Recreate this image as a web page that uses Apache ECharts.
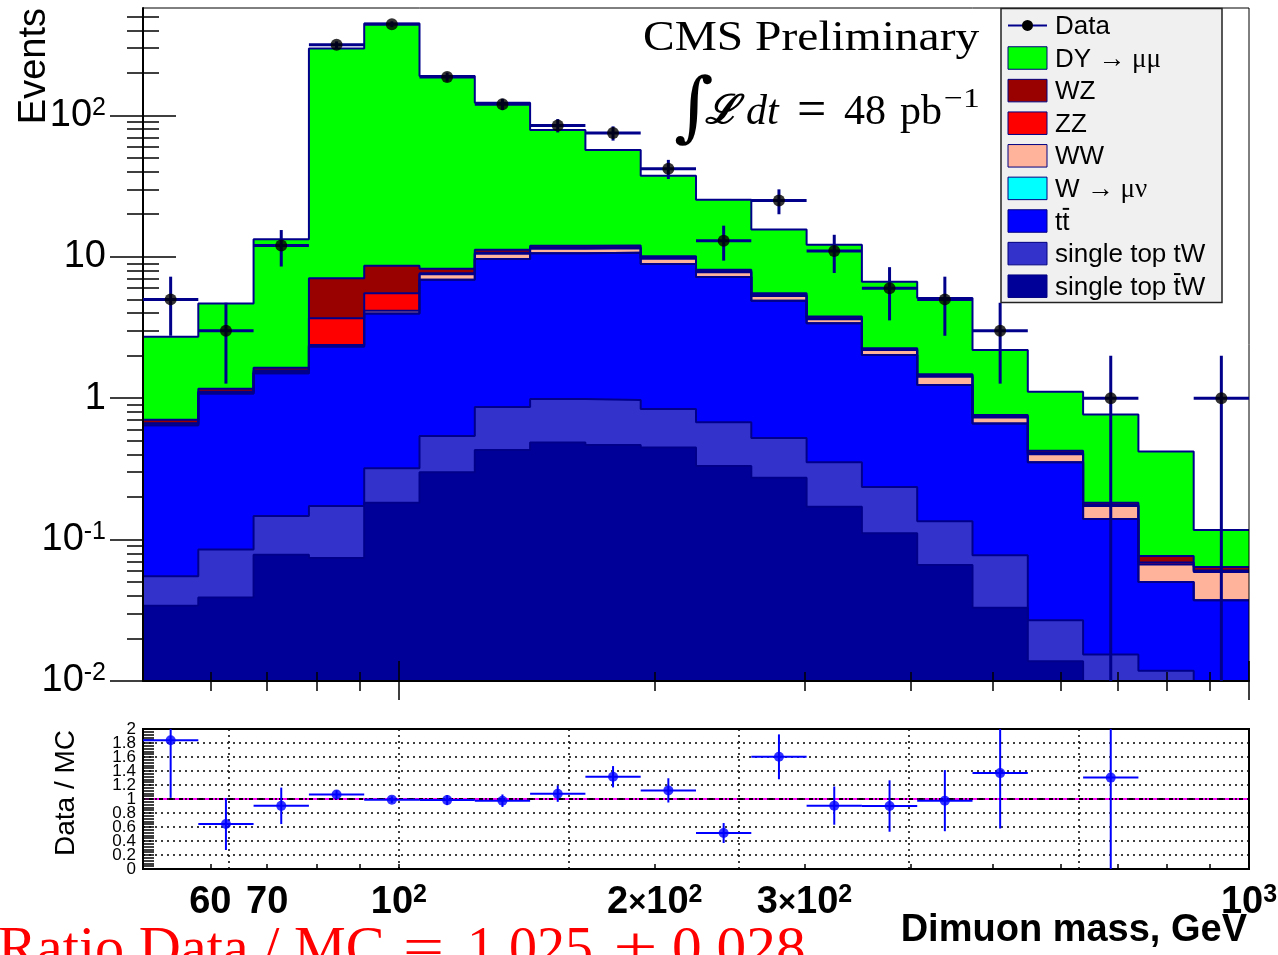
<!DOCTYPE html>
<html>
<head>
<meta charset="utf-8">
<title>Dimuon mass</title>
<script src="https://cdn.jsdelivr.net/npm/echarts@6.0.0/dist/echarts.min.js"></script>
<style>
  html, body { margin: 0; padding: 0; background: #ffffff; }
  #chart { width: 1278px; height: 955px; }
</style>
</head>
<body>
<div id="chart"></div>
<script>
// Bin edges of the dimuon mass histogram (GeV), 20 log-spaced bins
const binEdges = [50, 58.08, 67.46, 78.37, 91.03, 105.74, 122.82, 142.67, 165.72, 192.50,
  223.61, 259.74, 301.71, 350.46, 407.10, 472.87, 549.28, 638.04, 741.13, 860.88, 1000];

// Observed events per bin
const dataCounts = [5, 3, 12, 316, 442, 187, 120, 85, 75, 42, 13, 25, 11, 6, 5, 3, 0, 1, 0, 1];

// Expected events per bin for each simulated process
const singleTopTbarW = [0.034, 0.039, 0.078, 0.074, 0.182, 0.299, 0.43, 0.487, 0.466, 0.449, 0.331, 0.274, 0.171, 0.111, 0.066, 0.033, 0.0138, 0.005, 0.004, 0.002];
const singleTopTW = [0.021, 0.046, 0.069, 0.099, 0.137, 0.241, 0.437, 0.50, 0.504, 0.391, 0.344, 0.249, 0.182, 0.125, 0.069, 0.0446, 0.0131, 0.0104, 0.0078, 0.004];
const ttbar = [0.590, 0.995, 1.353, 2.147, 3.661, 6.33, 8.80, 9.61, 9.73, 8.07, 6.535, 4.357, 3.037, 1.784, 1.105, 0.586, 0.325, 0.1246, 0.0384, 0.0313];
const wMuNu = [0, 0, 0, 0, 0, 0, 0, 0, 0, 0, 0, 0, 0, 0, 0, 0, 0, 0, 0, 0];
const ww = [0.015, 0.020, 0.030, 0.060, 0.170, 0.67, 0.83, 0.80, 0.80, 0.76, 0.58, 0.41, 0.23, 0.17, 0.18, 0.068, 0.049, 0.033, 0.0165, 0.0218];
const zz = [0.005, 0.010, 0.040, 1.30, 1.38, 0.11, 0.20, 0.20, 0.15, 0.13, 0.11, 0.09, 0.06, 0.03, 0.025, 0.013, 0.009, 0.003, 0.0023, 0.0014];
const wz = [0.040, 0.055, 0.070, 3.38, 3.10, 0.57, 0.50, 0.40, 0.35, 0.30, 0.20, 0.15, 0.10, 0.04, 0.031, 0.015, 0.015, 0.006, 0.0077, 0.0036];
const dyMuMu = [2.015, 3.505, 11.66, 289.9, 437.4, 181.8, 111.8, 67.0, 44.9, 27.3, 17.2, 10.07, 8.37, 4.41, 3.644, 1.43, 0.685, 0.584, 0.344, 0.0529];

// Axis ticks and labels
const massTicksMinor = [60, 70, 80, 90, 200, 300, 400, 500, 600, 700, 800, 900];
const massTicksMajor = [100, 1000];
const massLabelValues = [60, 70, 100, 200, 300, 1000];
const ratioGridMasses = [63.1, 100, 158.5, 251.2, 398.1, 631.0];
const eventsTicksMajor = [0.01, 0.1, 1, 10, 100];
const eventsTicksMinor = [0.02, 0.03, 0.04, 0.05, 0.06, 0.07, 0.08, 0.09,
  0.2, 0.3, 0.4, 0.5, 0.6, 0.7, 0.8, 0.9, 2, 3, 4, 5, 6, 7, 8, 9,
  20, 30, 40, 50, 60, 70, 80, 90, 200, 300, 400, 500];
const ratioLabelsEven = [0, 0.4, 0.8, 1.2, 1.6, 2];
const ratioLabelsOdd = [0.2, 0.6, 1, 1.4, 1.8];

const ratioValueText = '1.025';
const ratioErrorText = '0.028';

// ---------------------------------------------------------------------
const SANS = '"Liberation Sans", Arial, Helvetica, sans-serif';
const SERIF = '"Liberation Serif", "Times New Roman", serif';
const OUTLINE = '#00008b';
const DATA_ERR = '#00008b';
const RATIO_BLUE = '#0000ff';

// stacking order: bottom first
const layers = [
  { name: 'single top t\u0304W', values: singleTopTbarW, color: '#000099' },
  { name: 'single top tW', values: singleTopTW, color: '#3333cc' },
  { name: 't t\u0304', values: ttbar, color: '#0000ff' },
  { name: 'W \u2192 \u03bc\u03bd', values: wMuNu, color: '#00ffff' },
  { name: 'WW', values: ww, color: '#ffb39b' },
  { name: 'ZZ', values: zz, color: '#ff0000' },
  { name: 'WZ', values: wz, color: '#990000' },
  { name: 'DY \u2192 \u03bc\u03bc', values: dyMuMu, color: '#00ff00' }
];

const nBins = dataCounts.length;
const cumulative = [];
let running = new Array(nBins).fill(0);
layers.forEach(l => {
  running = running.map((s, i) => s + l.values[i]);
  cumulative.push(running.slice());
});
const mcTotal = cumulative[cumulative.length - 1];

const Y_MIN = 0.01, Y_MAX = 575;
const RATIO_MIN = 0, RATIO_MAX = 2;

const binCenter = i => Math.sqrt(binEdges[i] * binEdges[i + 1]);

// data points with Poisson errors
const dataPoints = [], dataBars = [];
dataCounts.forEach((n, i) => {
  if (n <= 0) return;
  const e = Math.sqrt(n);
  dataPoints.push([binCenter(i), n]);
  dataBars.push([binEdges[i], binEdges[i + 1], n, Math.max(n - e, Y_MIN), Math.min(n + e, Y_MAX)]);
});

// Data / MC ratio
const ratioPoints = [], ratioBars = [];
dataCounts.forEach((n, i) => {
  if (n <= 0) return;
  const r = n / mcTotal[i];
  if (r > RATIO_MAX) return;
  const e = Math.sqrt(n) / mcTotal[i];
  ratioPoints.push([binCenter(i), r]);
  ratioBars.push([binEdges[i], binEdges[i + 1], r, Math.max(r - e, RATIO_MIN), Math.min(r + e, RATIO_MAX)]);
});

// ---------------------------------------------------------------------
function massAxis(grid, extra) {
  return Object.assign({
    type: 'log', logBase: 10, min: 50, max: 1000, gridIndex: grid, position: 'bottom',
    axisLine: { show: false }, axisTick: { show: false }, axisLabel: { show: false },
    splitLine: { show: false }, minorTick: { show: false }, z: 4
  }, extra);
}
function eventsAxis(extra) {
  return Object.assign({
    type: 'log', logBase: 10, min: Y_MIN, max: Y_MAX, gridIndex: 0, position: 'left',
    axisLine: { show: false }, axisTick: { show: false }, axisLabel: { show: false },
    splitLine: { show: false }, minorTick: { show: false }, z: 4
  }, extra);
}
function ratioAxis(extra) {
  return Object.assign({
    type: 'value', gridIndex: 1, min: RATIO_MIN, max: RATIO_MAX, interval: 0.2, position: 'left', z: 4,
    axisLine: { show: false }, axisTick: { show: false }, splitLine: { show: false }, minorTick: { show: false }
  }, extra);
}

function powLabel(v) {
  const p = Math.round(Math.log10(v));
  if (p === 0) return '{b|1}';
  if (p === 1) return '{b|10}';
  return '{b|10}{s|' + p + '}';
}
function massLabel(v) {
  if (Math.abs(v - 100) < 1e-6) return '{b|10}{s|2}';
  if (Math.abs(v - 1000) < 1e-6) return '{b|10}{s|3}';
  if (v >= 200) return '{b|' + Math.round(v / 100) + '}{x|\u00d7}{b|10}{s|2}';
  return '{b|' + v + '}';
}
function ratioLabel(v) {
  return String(Math.round(v * 10) / 10);
}
const ratioLabelStyle = { fontFamily: SANS, fontSize: 17, color: '#000', margin: 7, formatter: ratioLabel,
  showMinLabel: true, showMaxLabel: true, hideOverlap: false };

const xAxes = [
  // main panel: bottom axis line with crossing ticks
  massAxis(0, { axisLine: { show: true, onZero: false, lineStyle: { color: '#000', width: 2 } },
    axisTick: { show: true, customValues: massTicksMinor, length: 10, lineStyle: { color: '#000', width: 1.5 } } }),
  massAxis(0, { axisTick: { show: true, inside: true, customValues: massTicksMinor, length: 9, lineStyle: { color: '#000', width: 1.5 } } }),
  massAxis(0, { axisTick: { show: true, customValues: massTicksMajor, length: 19, lineStyle: { color: '#000', width: 1.5 } } }),
  massAxis(0, { axisTick: { show: true, inside: true, customValues: massTicksMajor, length: 20, lineStyle: { color: '#000', width: 1.5 } } }),
  // ratio panel: axis line, ticks and labels
  massAxis(1, { axisLine: { show: true, onZero: false, lineStyle: { color: '#000', width: 2 } },
    axisTick: { show: true, inside: true, customValues: massTicksMinor.concat(massTicksMajor), length: 5, lineStyle: { color: '#000', width: 1.5 } },
    axisLabel: { show: true, customValues: massLabelValues, margin: 14, formatter: massLabel,
      showMinLabel: true, showMaxLabel: true,
      rich: {
        b: { fontFamily: SANS, fontWeight: 'bold', fontSize: 38, lineHeight: 40, color: '#000' },
        s: { fontFamily: SANS, fontWeight: 'bold', fontSize: 25, lineHeight: 18, verticalAlign: 'top', color: '#000' },
        x: { fontFamily: SANS, fontWeight: 'bold', fontSize: 31, lineHeight: 40, color: '#000' }
      } } }),
  // ratio panel: vertical dotted grid
  massAxis(1, { axisTick: { show: false, customValues: ratioGridMasses },
    splitLine: { show: true, lineStyle: { color: '#000', width: 1.5, type: [2, 4] } }, z: 1 })
];

const yAxes = [
  eventsAxis({ axisLine: { show: true, onZero: false, lineStyle: { color: '#000', width: 2 } },
    axisTick: { show: true, customValues: eventsTicksMajor, length: 33, lineStyle: { color: '#000', width: 1.5 } },
    axisLabel: { show: true, customValues: eventsTicksMajor, margin: 37, formatter: powLabel,
      showMinLabel: true, showMaxLabel: true,
      rich: {
        b: { fontFamily: SANS, fontSize: 38, lineHeight: 40, color: '#000' },
        s: { fontFamily: SANS, fontSize: 25, lineHeight: 20, verticalAlign: 'top', color: '#000' }
      } } }),
  eventsAxis({ axisTick: { show: true, customValues: eventsTicksMinor, length: 16, lineStyle: { color: '#000', width: 1.5 } } }),
  eventsAxis({ z: 0, axisTick: { show: true, inside: true, customValues: eventsTicksMajor, length: 33, lineStyle: { color: '#000', width: 1.5 } } }),
  eventsAxis({ z: 0, axisTick: { show: true, inside: true, customValues: eventsTicksMinor, length: 16, lineStyle: { color: '#000', width: 1.5 } } }),
  // ratio panel: axis line, ticks, dotted grid and every other label
  ratioAxis({
    axisLine: { show: true, onZero: false, lineStyle: { color: '#000', width: 2 } },
    axisTick: { show: true, inside: true, length: 11, lineStyle: { color: '#000', width: 1.5 } },
    minorTick: { show: true, splitNumber: 5, length: 11, lineStyle: { color: '#000', width: 1.5 } },
    splitLine: { show: true, lineStyle: { color: '#000', width: 1.5, type: [2, 4] } },
    axisLabel: Object.assign({ customValues: ratioLabelsEven }, ratioLabelStyle)
  }),
  // ratio panel: remaining labels
  ratioAxis({ axisLabel: Object.assign({ customValues: ratioLabelsOdd }, ratioLabelStyle) })
];

// ---------------------------------------------------------------------
const series = [];

// stacked histograms, drawn from the total down so lower layers paint on top
for (let k = layers.length - 1; k >= 0; k--) {
  series.push({
    type: 'line', name: layers[k].name, xAxisIndex: 0, yAxisIndex: 0,
    step: 'end', symbol: 'none', silent: true, z: 2,
    data: binEdges.map((e, i) => [e, cumulative[k][Math.min(i, nBins - 1)]]),
    lineStyle: { color: OUTLINE, width: 2 },
    areaStyle: { color: layers[k].color, opacity: 1, origin: 'start' }
  });
}

function errorBars(items, xi, yi, color, width) {
  return {
    type: 'custom', xAxisIndex: xi, yAxisIndex: yi, clip: true, silent: true, z: 5,
    data: items,
    encode: { x: [0, 1], y: [2, 3, 4] },
    renderItem: function (params, api) {
      const lo = api.value(0), hi = api.value(1), v = api.value(2);
      const eLo = api.value(3), eHi = api.value(4);
      const xc = Math.sqrt(lo * hi);
      const pL = api.coord([lo, v]), pR = api.coord([hi, v]);
      const pB = api.coord([xc, eLo]), pT = api.coord([xc, eHi]);
      const st = { stroke: color, lineWidth: width };
      return {
        type: 'group', children: [
          { type: 'line', shape: { x1: pL[0], y1: pL[1], x2: pR[0], y2: pR[1] }, style: st },
          { type: 'line', shape: { x1: pB[0], y1: pB[1], x2: pT[0], y2: pT[1] }, style: st }
        ]
      };
    }
  };
}

series.push(errorBars(dataBars, 0, 0, DATA_ERR, 3));
series.push({
  type: 'scatter', name: 'Data', xAxisIndex: 0, yAxisIndex: 0, z: 6, silent: true,
  symbol: 'circle', symbolSize: 12, itemStyle: { color: '#000' }, data: dataPoints
});

// ratio panel: reference line at 1, error bars and points
series.push({
  type: 'line', xAxisIndex: 4, yAxisIndex: 4, symbol: 'none', silent: true, z: 3,
  data: [[50, 1], [1000, 1]], lineStyle: { color: '#000', width: 2 }
});
series.push({
  type: 'line', xAxisIndex: 4, yAxisIndex: 4, symbol: 'none', silent: true, z: 3,
  data: [[50, 1], [1000, 1]], lineStyle: { color: '#ff00ff', width: 2, type: [6, 4] }
});
series.push(errorBars(ratioBars, 4, 4, RATIO_BLUE, 2));
series.push({
  type: 'scatter', xAxisIndex: 4, yAxisIndex: 4, z: 6, silent: true,
  symbol: 'circle', symbolSize: 10, itemStyle: { color: RATIO_BLUE }, data: ratioPoints
});

// ---------------------------------------------------------------------
// legend box
const LEG = { x: 1001, y: 8.5, w: 221, h: 294, row0: 25.4, dy: 32.6, swX: 1008, swW: 39, swH: 22.5, textX: 1055 };
const measure = (() => {
  const c = document.createElement('canvas').getContext('2d');
  return (txt, font) => { c.font = font; return c.measureText(txt).width; };
})();
const legendFont = '26px ' + SANS;

const legendEls = [{
  type: 'rect', shape: { x: LEG.x, y: LEG.y, width: LEG.w, height: LEG.h },
  style: { fill: '#f0f0f0', stroke: '#222', lineWidth: 1.5 }, z: 100
}];
// Data row
legendEls.push({ type: 'line', shape: { x1: LEG.swX, y1: LEG.row0, x2: LEG.swX + LEG.swW, y2: LEG.row0 },
  style: { stroke: DATA_ERR, lineWidth: 2 }, z: 101 });
legendEls.push({ type: 'circle', shape: { cx: LEG.swX + LEG.swW / 2, cy: LEG.row0, r: 5.5 },
  style: { fill: '#000' }, z: 102 });
legendEls.push({ type: 'text', x: LEG.textX, y: LEG.row0 + 1.5, z: 102,
  style: { text: 'Data', font: legendFont, fill: '#000', verticalAlign: 'middle', align: 'left' } });

const legendLabels = [
  { idx: 7, text: '{a|DY} {g|\u2192 \u03bc\u03bc}' },
  { idx: 6, text: 'WZ' },
  { idx: 5, text: 'ZZ' },
  { idx: 4, text: 'WW' },
  { idx: 3, text: '{a|W} {g|\u2192 \u03bc\u03bd}' },
  { idx: 2, text: 'tt', barAfter: 't' },
  { idx: 1, text: 'single top tW' },
  { idx: 0, text: 'single top tW', barAfter: 'single top ' }
];
legendLabels.forEach((lab, r) => {
  const cy = LEG.row0 + LEG.dy * (r + 1);
  legendEls.push({ type: 'rect', z: 101,
    shape: { x: LEG.swX, y: cy - LEG.swH / 2, width: LEG.swW, height: LEG.swH },
    style: { fill: layers[lab.idx].color, stroke: '#000080', lineWidth: 1 } });
  legendEls.push({ type: 'text', x: LEG.textX, y: cy + 1.5, z: 102,
    style: { text: lab.text, font: legendFont, fill: '#000', verticalAlign: 'middle', align: 'left',
      rich: {
        a: { fontFamily: SANS, fontSize: 26, fill: '#000' },
        g: { fontFamily: SERIF, fontSize: 27, fill: '#000' }
      } } });
  if (lab.barAfter !== undefined) {
    const x0 = LEG.textX + measure(lab.barAfter, legendFont);
    const tw = measure('t', legendFont);
    const yb = cy + 1.5 + 0.2757 * 26 - 0.80 * 26;
    legendEls.push({ type: 'line', z: 102, shape: { x1: x0 + 0.5, y1: yb, x2: x0 + tw - 0.3, y2: yb },
      style: { stroke: '#000', lineWidth: 2 } });
  }
});

// annotations
const RED_Y = 951;
const textEls = [
  { type: 'text', x: 643, y: 38.8, z: 50, scaleX: 1.13, originX: 0, originY: 0,
    style: { text: 'CMS Preliminary', font: '42px ' + SERIF, fill: '#000', verticalAlign: 'middle', align: 'left' } },
  { type: 'text', x: 674, y: 112, z: 50,
    style: { text: '\u222b', font: '76px "DejaVu Serif", serif', fill: '#000', verticalAlign: 'middle', align: 'left' } },
  { type: 'text', x: 705, y: 112.8, z: 50,
    style: { text: '\u2112', font: 'italic bold 40px "DejaVu Serif", serif', fill: '#000', verticalAlign: 'middle', align: 'left' } },
  { type: 'text', x: 746, y: 112.8, z: 50,
    style: { text: 'dt', font: 'italic 42px ' + SERIF, fill: '#000', verticalAlign: 'middle', align: 'left' } },
  { type: 'text', x: 797, y: 112.8, z: 50,
    style: { text: '=', font: '52px ' + SERIF, fill: '#000', verticalAlign: 'middle', align: 'left' } },
  { type: 'text', x: 844, y: 112.8, z: 50,
    style: { text: '48', font: '42px ' + SERIF, fill: '#000', verticalAlign: 'middle', align: 'left' } },
  { type: 'text', x: 900, y: 112.8, z: 50,
    style: { text: 'pb', font: '42px ' + SERIF, fill: '#000', verticalAlign: 'middle', align: 'left' } },
  { type: 'text', x: 944, y: 99.3, z: 50, scaleX: 1.2, originX: 0, originY: 0,
    style: { text: '\u22121', font: '28px ' + SERIF, fill: '#000', verticalAlign: 'middle', align: 'left' } },
  // axis titles
  { type: 'text', x: 35, y: 8, rotation: Math.PI / 2, z: 50,
    style: { text: 'Events', font: '38px ' + SANS, fill: '#000', verticalAlign: 'middle', align: 'right' } },
  { type: 'text', x: 66, y: 730, rotation: Math.PI / 2, z: 50,
    style: { text: 'Data / MC', font: '28px ' + SANS, fill: '#000', verticalAlign: 'middle', align: 'right' } },
  { type: 'text', x: 1247, y: 930.5, z: 50,
    style: { text: 'Dimuon mass, GeV', font: 'bold 38px ' + SANS, fill: '#000', verticalAlign: 'middle', align: 'right' } },
  // overall normalisation
  { type: 'text', x: -2, y: RED_Y, z: 50, scaleX: 1.04, originX: 0, originY: 0,
    style: { text: 'Ratio Data / MC', font: '56px ' + SERIF, fill: '#ff0000', verticalAlign: 'middle', align: 'left' } },
  { type: 'text', x: 403, y: RED_Y, z: 50, scaleX: 1.3, originX: 0, originY: 0,
    style: { text: '=', font: '56px ' + SERIF, fill: '#ff0000', verticalAlign: 'middle', align: 'left' } },
  { type: 'text', x: 467, y: RED_Y, z: 50,
    style: { text: ratioValueText, font: '56px ' + SERIF, fill: '#ff0000', verticalAlign: 'middle', align: 'left' } },
  { type: 'text', x: 614, y: RED_Y, z: 50, scaleX: 1.4, originX: 0, originY: 0,
    style: { text: '\u00b1', font: '56px ' + SERIF, fill: '#ff0000', verticalAlign: 'middle', align: 'left' } },
  { type: 'text', x: 672, y: RED_Y, z: 50, scaleX: 1.06, originX: 0, originY: 0,
    style: { text: ratioErrorText, font: '56px ' + SERIF, fill: '#ff0000', verticalAlign: 'middle', align: 'left' } }
];

const option = {
  animation: false,
  backgroundColor: '#ffffff',
  grid: [
    { left: 143, top: 8, width: 1106, height: 673, show: true, borderColor: '#000', borderWidth: 1,
      backgroundColor: 'transparent', z: 4, containLabel: false, outerBoundsMode: 'none' },
    { left: 143, top: 729, width: 1106, height: 140, show: true, borderColor: '#000', borderWidth: 2,
      backgroundColor: 'transparent', z: 4, containLabel: false, outerBoundsMode: 'none' }
  ],
  xAxis: xAxes,
  yAxis: yAxes,
  series: series,
  graphic: { elements: legendEls.concat(textEls) }
};

const chart = echarts.init(document.getElementById('chart'), null, { renderer: 'canvas' });
chart.setOption(option);
</script>
</body>
</html>
